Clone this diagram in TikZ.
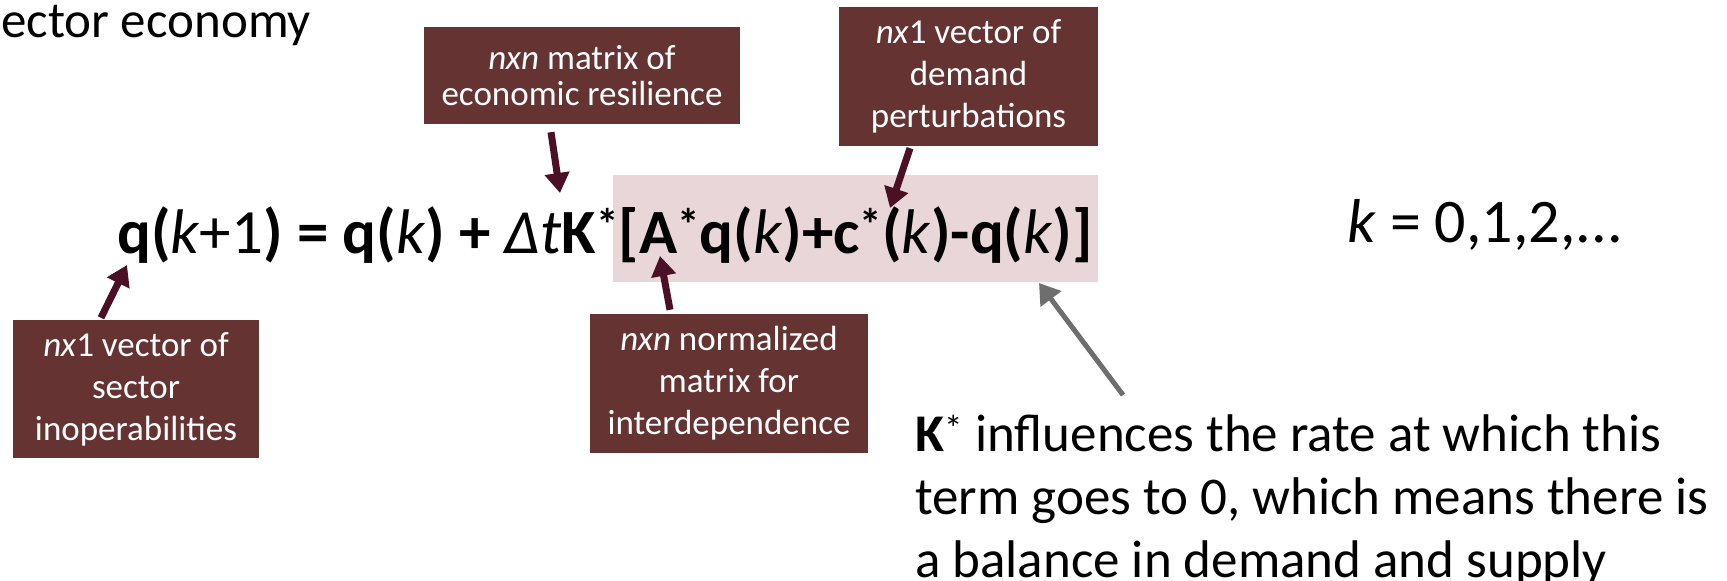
\documentclass[tikz,border=0pt]{standalone}
\usepackage{fontspec}
\setmainfont{Carlito}
\usepackage{xcolor}
\definecolor{cBox}{HTML}{663333}
\definecolor{cArrow}{HTML}{4B0F26}
\definecolor{cTerm}{HTML}{E8D6D8}
\definecolor{cGray}{HTML}{6E6E6E}
\usepackage{tikz}
\usetikzlibrary{positioning,arrows.meta}
\newcommand{\kk}{\textmd{\textit{k}}}
\newcommand{\sstar}{\textsuperscript{*}}
\newcommand{\eqstar}{\raisebox{0.2em}{\fontsize{45}{45}\selectfont *}}
\tikzset{
  note-box/.style={fill=cBox,text=white,inner sep=0pt,align=center,
    font=\fontsize{35}{42}\selectfont},
  term-bg/.style={fill=cTerm,inner sep=0pt},
  % arrows from the notes to the terms of the equation
  arrow-note/.style={-{Triangle[length=20pt,width=24pt]},line width=7pt,draw=cArrow},
  arrow-gray/.style={-{Triangle[length=20pt,width=25pt]},line width=5pt,draw=cGray},
  txt-big/.style={inner sep=0pt,anchor=base west},
}

\begin{document}
\begin{tikzpicture}[x=1pt,y=-1pt]
  \useasboundingbox (0,0) rectangle (1727,581);
  \node[inner sep=0pt,anchor=base west,font=\fontsize{51}{51}\selectfont] (title) at (1,37) {ector economy};
  \node[term-bg,minimum width=485pt,minimum height=107pt] (term) at (855.5,228.5) {};
  \node[txt-big,font=\fontsize{63}{63}\selectfont] (eq) at (117,253)
    {\textbf{q(}\kk\textmd{+1}\textbf{) = q(}\kk\textbf{) + }\textit{\mdseries Δt}\textbf{K\eqstar[A\eqstar q(}\kk\textbf{)+c\eqstar(}\kk\textbf{)-q(}\kk\textbf{)]}};
  \node[txt-big,font=\fontsize{62}{62}\selectfont] (steps) at (1347,242) {\textit{k} = 0,1,2,...};

  \node[note-box,minimum width=316pt,minimum height=97pt,font=\fontsize{35}{36}\selectfont] (res) at (582,75.5)
    {\textit{nxn} matrix of\\economic resilience};
  \node[note-box,minimum width=259pt,minimum height=139pt] (dem) at (968.5,76.5)
    {\textit{nx}1 vector of\\demand\\perturbations};
  \node[note-box,minimum width=246pt,minimum height=138pt] (sec) at (136,389)
    {\textit{nx}1 vector of\\sector\\inoperabilities};
  \node[note-box,minimum width=278pt,minimum height=139pt] (int) at (729,383.5)
    {\textit{nxn} normalized\\matrix for\\interdependence};
  \node[inner sep=0pt,anchor=north west,align=left,font=\fontsize{53}{63}\selectfont] (ktext) at (915,414)
    {\textbf{K}\sstar{} influences the rate at which this\\term goes to 0, which means there is\\a balance in demand and supply};

  \coordinate (tipK) at (560,193);
  \coordinate (tipC) at (890,208);
  \coordinate (tipQ) at (127,265);
  \coordinate (tipA) at (660,256);
  \coordinate (tipTerm) at (1039,283);
  \draw[arrow-note] ([shift={(-31,8)}]res.south) -- (tipK);
  \draw[arrow-note] ([shift={(-58.5,2)}]dem.south) -- (tipC);
  \draw[arrow-note] ([shift={(-35,-2)}]sec.north) -- (tipQ);
  \draw[arrow-note] ([shift={(-59,-4)}]int.north) -- (tipA);
  \draw[arrow-gray] ([shift={(208,-19)}]ktext.north west) -- (tipTerm);
\end{tikzpicture}
\end{document}
